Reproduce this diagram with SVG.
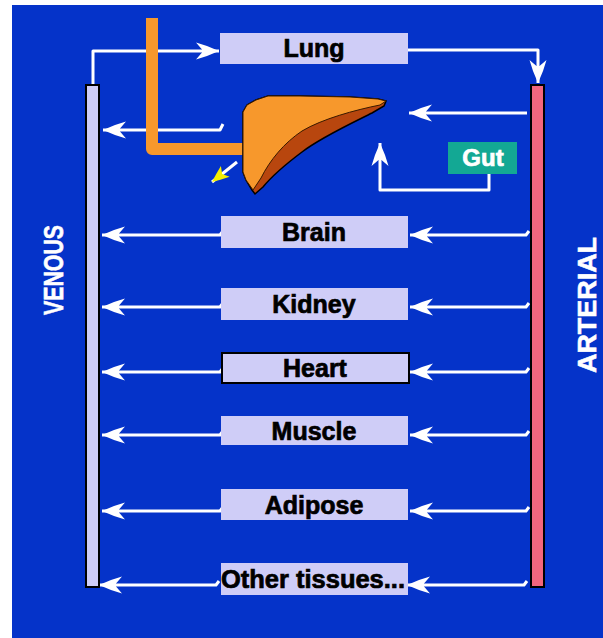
<svg xmlns="http://www.w3.org/2000/svg" width="603" height="638" viewBox="0 0 603 638">
  <style>
    .organ { fill: #cfcdf7; }
    .label { font-family: "Liberation Sans", Arial, sans-serif; font-weight: bold; font-size: 25px; fill: #000; stroke: #000; stroke-width: 0.7; text-anchor: middle; }
    .side { font-family: "Liberation Sans", Arial, sans-serif; font-weight: bold; font-size: 28px; fill: #fff; stroke: #fff; stroke-width: 0.6; text-anchor: middle; }
    .flow { fill: none; stroke: #fff; stroke-width: 3; stroke-linejoin: round; }
  </style>
  <defs>
    <marker id="arrow" viewBox="-24 -9 25 18" refX="0" refY="0" markerWidth="25" markerHeight="18" markerUnits="userSpaceOnUse" orient="auto">
      <path d="M0,0 L-12,-5 L-23,-8.5 L-17,-1.5 L-17,1.5 L-23,8.5 L-12,5 Z" fill="#fff"/>
    </marker>
    <marker id="arrow-yellow" viewBox="-18 -8 19 16" refX="0" refY="0" markerWidth="19" markerHeight="16" markerUnits="userSpaceOnUse" orient="auto">
      <path d="M0,0 L-8,-3.5 L-17,-7 L-13,0 L-17,7 L-8,3.5 Z" fill="#f4f000"/>
    </marker>
  </defs>

  <!-- backdrop -->
  <rect x="12" y="5" width="591" height="633" fill="#0533c9"/>

  <!-- connectors -->
  <g id="connectors">
    <!-- venous return to lung, lung out to arterial -->
    <path class="flow" d="M93,85 L93,51 L219,51" marker-end="url(#arrow)"/>
    <path class="flow" d="M408,50 L538,50 L538,83" marker-end="url(#arrow)"/>
    <!-- liver -->
    <path class="flow" d="M527,113 L409,113" marker-end="url(#arrow)"/>
    <path class="flow" d="M223,124 L220,130 L103,130" marker-end="url(#arrow)"/>
    <!-- gut to liver (portal) -->
    <path class="flow" d="M489,174 L489,190 L380,190 L380,143" marker-end="url(#arrow)"/>
    <!-- bile out -->
    <path class="flow" d="M237,162 L212,182" stroke-width="2" marker-end="url(#arrow-yellow)"/>
    <!-- brain -->
    <path class="flow" d="M529,231 L526,235 L410,235" marker-end="url(#arrow)"/>
    <path class="flow" d="M223,231 L220,235 L102,235" marker-end="url(#arrow)"/>
    <!-- kidney -->
    <path class="flow" d="M529,303 L526,307 L410,307" marker-end="url(#arrow)"/>
    <path class="flow" d="M223,303 L220,307 L102,307" marker-end="url(#arrow)"/>
    <!-- heart -->
    <path class="flow" d="M529,368 L526,372 L410,372" marker-end="url(#arrow)"/>
    <path class="flow" d="M223,368 L220,372 L102,372" marker-end="url(#arrow)"/>
    <!-- muscle -->
    <path class="flow" d="M529,431 L526,435 L410,435" marker-end="url(#arrow)"/>
    <path class="flow" d="M223,431 L220,435 L102,435" marker-end="url(#arrow)"/>
    <!-- adipose -->
    <path class="flow" d="M529,507 L526,511 L410,511" marker-end="url(#arrow)"/>
    <path class="flow" d="M223,507 L220,511 L102,511" marker-end="url(#arrow)"/>
    <!-- other tissues -->
    <path class="flow" d="M527,581 L524,585 L407,585" marker-end="url(#arrow)"/>
    <path class="flow" d="M219,581 L216,585 L99,585" marker-end="url(#arrow)"/>
  </g>

  <!-- blood pools -->
  <g id="venous">
    <rect x="86" y="85" width="13" height="502" fill="#cfcdf7" stroke="#000" stroke-width="2"/>
    <text class="side" transform="translate(63,270) rotate(-90)" textLength="90" lengthAdjust="spacingAndGlyphs">VENOUS</text>
  </g>
  <g id="arterial">
    <rect x="531" y="85" width="13" height="502" fill="#f2667e" stroke="#000" stroke-width="2"/>
    <text class="side" transform="translate(596,305) rotate(-90)" textLength="136" lengthAdjust="spacingAndGlyphs" style="font-size:26px">ARTERIAL</text>
  </g>

  <!-- organs -->
  <g id="lung">
    <rect class="organ" x="220" y="33" width="188" height="31"/>
    <text class="label" x="314" y="57">Lung</text>
  </g>

  <g id="liver">
    <path d="M152,18 L152,149 L246,149" fill="none" stroke="#f7982c" stroke-width="12" stroke-linejoin="round"/>
    <path d="M243,112 L247,105 L256,100 L268,96 L300,96 L350,97 L378,99 L386,101 L384,106 L372,113 C350,124 320,138 302,152 C286,164 272,176 263,187 L255,194 L252,190 L246,180 L243,172 Z" fill="#b8460e" stroke="#000" stroke-width="1.5"/>
    <path d="M243,112 L247,105 L256,100 L268,96 L300,96 L350,97 L378,99 L386,101 L380,105 C355,110 322,119 302,131 C284,143 270,160 261,178 L253,190 L246,180 L243,172 Z" fill="#f7982c" stroke="#3a1a00" stroke-width="1"/>
  </g>

  <g id="gut">
    <rect x="448" y="142" width="69" height="32" fill="#13a894"/>
    <text class="label" x="483" y="166" style="fill:#fff;stroke:#fff;font-size:24px">Gut</text>
  </g>

  <g id="brain">
    <rect class="organ" x="221" y="216" width="187" height="32"/>
    <text class="label" x="314" y="241">Brain</text>
  </g>

  <g id="kidney">
    <rect class="organ" x="221" y="288" width="187" height="32"/>
    <text class="label" x="314" y="313">Kidney</text>
  </g>

  <g id="heart">
    <rect class="organ" x="222" y="353" width="187" height="30" stroke="#000" stroke-width="2"/>
    <text class="label" x="315" y="377">Heart</text>
  </g>

  <g id="muscle">
    <rect class="organ" x="221" y="416" width="187" height="29"/>
    <text class="label" x="314" y="440">Muscle</text>
  </g>

  <g id="adipose">
    <rect class="organ" x="221" y="489" width="187" height="31"/>
    <text class="label" x="314" y="514">Adipose</text>
  </g>

  <g id="other">
    <rect class="organ" x="221" y="563" width="187" height="32"/>
    <text class="label" x="313" y="588" textLength="184" lengthAdjust="spacingAndGlyphs">Other tissues...</text>
  </g>
</svg>
